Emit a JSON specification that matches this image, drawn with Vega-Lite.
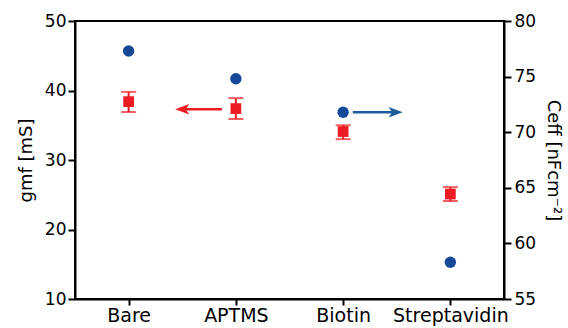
{
  "$schema": "https://vega.github.io/schema/vega-lite/v6.json",
  "autosize": {"type": "none"},
  "padding": {"left": 75, "top": 21, "right": 64, "bottom": 29},
  "width": 429,
  "height": 278,
  "background": "white",
  "config": {
    "view": {"stroke": "black", "strokeWidth": 2},
    "font": "DejaVu Sans",
    "axis": {
      "grid": false,
      "domainColor": "black",
      "domainWidth": 2,
      "tickColor": "black",
      "tickWidth": 2,
      "labelColor": "black",
      "titleColor": "black",
      "labelFont": "DejaVu Sans",
      "titleFont": "DejaVu Sans",
      "titleFontWeight": "normal"
    }
  },
  "datasets": {
    "pts": [
      {"cat": "Bare", "idx": 0, "gm": 38.4, "gmLo": 36.9, "gmHi": 39.8, "ceff": 77.3},
      {"cat": "APTMS", "idx": 1, "gm": 37.4, "gmLo": 35.9, "gmHi": 38.9, "ceff": 74.8},
      {"cat": "Biotin", "idx": 2, "gm": 34.1, "gmLo": 33.0, "gmHi": 35.0, "ceff": 71.8},
      {"cat": "Streptavidin", "idx": 3, "gm": 25.1, "gmLo": 24.1, "gmHi": 26.1, "ceff": 58.3}
    ],
    "redArrow": [{"from": 0.87, "to": 0.5, "head": 0.5, "v": 37.3}],
    "blueArrow": [{"from": 2.09, "to": 2.5, "head": 2.49, "v": 71.8}]
  },
  "encoding": {
    "x": {
      "type": "quantitative",
      "scale": {"domain": [-0.5, 3.5], "nice": false, "zero": false},
      "axis": {
        "values": [0, 1, 2, 3],
        "labelExpr": "['Bare','APTMS','Biotin','Streptavidin'][datum.value]",
        "title": null,
        "tickSize": 6,
        "labelFontSize": 19,
        "labelPadding": 1
      }
    }
  },
  "layer": [
    {
      "layer": [
        {
          "data": {"name": "pts"},
          "mark": {"type": "rule", "color": "#ed1c24", "strokeWidth": 2},
          "encoding": {
            "x": {"field": "idx", "type": "quantitative"},
            "y": {
              "field": "gmLo",
              "type": "quantitative",
              "scale": {"domain": [10, 50], "nice": false, "zero": false},
              "axis": {
                "orient": "left",
                "values": [10, 15, 20, 25, 30, 35, 40, 45, 50],
                "labelExpr": "datum.value % 10 === 0 ? datum.label : ''",
                "tickSize": {"condition": {"test": "datum.value % 10 === 0", "value": 7}, "value": 4},
                "labelFontSize": 17,
                "labelPadding": 2,
                "title": "gmf [mS]",
                "titleFontSize": 18,
                "titlePadding": 9
              }
            },
            "y2": {"field": "gmHi"}
          }
        },
        {
          "data": {"name": "pts"},
          "mark": {"type": "tick", "orient": "horizontal", "color": "#ed1c24", "size": 15, "thickness": 2},
          "encoding": {
            "x": {"field": "idx", "type": "quantitative"},
            "y": {"field": "gmLo", "type": "quantitative"}
          }
        },
        {
          "data": {"name": "pts"},
          "mark": {"type": "tick", "orient": "horizontal", "color": "#ed1c24", "size": 15, "thickness": 2},
          "encoding": {
            "x": {"field": "idx", "type": "quantitative"},
            "y": {"field": "gmHi", "type": "quantitative"}
          }
        },
        {
          "data": {"name": "pts"},
          "mark": {"type": "point", "shape": "square", "filled": true, "color": "#ed1c24", "size": 115, "opacity": 1},
          "encoding": {
            "x": {"field": "idx", "type": "quantitative"},
            "y": {"field": "gm", "type": "quantitative"}
          }
        },
        {
          "data": {"name": "redArrow"},
          "mark": {"type": "rule", "color": "#ed1c24", "strokeWidth": 2.5},
          "encoding": {
            "x": {"field": "from", "type": "quantitative"},
            "x2": {"field": "to"},
            "y": {"field": "v", "type": "quantitative"}
          }
        },
        {
          "data": {"name": "redArrow"},
          "mark": {"type": "point", "shape": "M -1 0 L 1 -0.75 L 0.5 0 L 1 0.75 Z", "filled": true, "color": "#ed1c24", "size": 200, "opacity": 1},
          "encoding": {
            "x": {"field": "head", "type": "quantitative"},
            "y": {"field": "v", "type": "quantitative"}
          }
        }
      ]
    },
    {
      "layer": [
        {
          "data": {"name": "pts"},
          "mark": {"type": "point", "shape": "circle", "filled": true, "color": "#154899", "size": 130, "opacity": 1},
          "encoding": {
            "x": {"field": "idx", "type": "quantitative"},
            "y": {
              "field": "ceff",
              "type": "quantitative",
              "scale": {"domain": [55, 80], "nice": false, "zero": false},
              "axis": {
                "orient": "right",
                "values": [55, 57.5, 60, 62.5, 65, 67.5, 70, 72.5, 75, 77.5, 80],
                "labelExpr": "datum.value % 5 === 0 ? datum.label : ''",
                "tickSize": {"condition": {"test": "datum.value % 5 === 0", "value": 7}, "value": 4},
                "labelFontSize": 17,
                "labelPadding": 3,
                "title": "Ceff [nFcm⁻²]",
                "titleFontSize": 18,
                "titlePadding": 8
              }
            }
          }
        },
        {
          "data": {"name": "blueArrow"},
          "mark": {"type": "rule", "color": "#1d5a9e", "strokeWidth": 2.5},
          "encoding": {
            "x": {"field": "from", "type": "quantitative"},
            "x2": {"field": "to"},
            "y": {"field": "v", "type": "quantitative"}
          }
        },
        {
          "data": {"name": "blueArrow"},
          "mark": {"type": "point", "shape": "M 1 0 L -1 -0.75 L -0.5 0 L -1 0.75 Z", "filled": true, "color": "#1d5a9e", "size": 200, "opacity": 1},
          "encoding": {
            "x": {"field": "head", "type": "quantitative"},
            "y": {"field": "v", "type": "quantitative"}
          }
        }
      ]
    }
  ],
  "resolve": {"scale": {"y": "independent"}, "axis": {"y": "independent"}}
}
